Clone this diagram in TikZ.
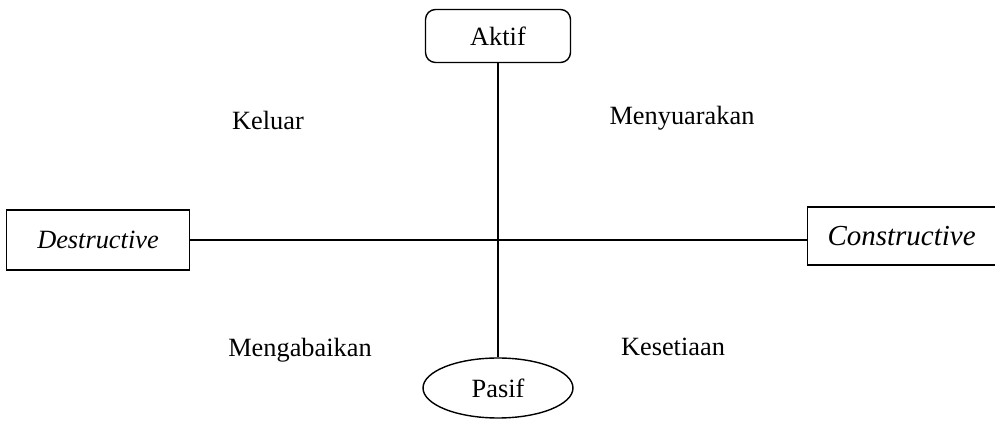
\documentclass[tikz,border=0pt]{standalone}
\usepackage{fontspec}
\setmainfont{Liberation Serif}
\usetikzlibrary{shapes,positioning}
\tikzstyle{box}=[shape=rectangle, draw, thick, inner sep=0mm]
\tikzstyle{lbl}=[inner sep=0mm, font=\fontsize{15}{18}\selectfont]

\begin{document}
\begin{tikzpicture}[x=0.02cm,y=-0.02cm,font=\fontsize{15}{18}\selectfont
]
\useasboundingbox (0,0) rectangle (995,425);
\clip (0,0) rectangle (995,425);
\node (aktif) [box, rounded corners=2mm, minimum width=2.9cm, minimum height=1.06cm] at (498,36) {Aktif};
\node (destr) [box, minimum width=3.66cm, minimum height=1.2cm] at (98,240) {\textit{Destructive}};
\node (constr) [box, minimum width=4.3cm, minimum height=1.16cm, text width=3.8cm, align=left] at (915,236) {\hspace{1.5mm}\fontsize{16.5}{18}\selectfont\textit{Constructive}};
\node (pasif) [shape=ellipse, draw, thick, minimum width=3cm, minimum height=1.2cm] at (498,388) {Pasif};

\node (keluar) [lbl] at (268,120) {Keluar};
\node (menyu) [lbl] at (682,118) {Menyuarakan};
\node (menga) [lbl] at (300,350) {Mengabaikan};
\node (setia) [lbl] at (673,347) {Kesetiaan};

\draw[thick] (destr.east) -- (constr.west |- destr.east);
\draw[thick] (aktif.south) -- (pasif.north);

\end{tikzpicture}
\end{document}
